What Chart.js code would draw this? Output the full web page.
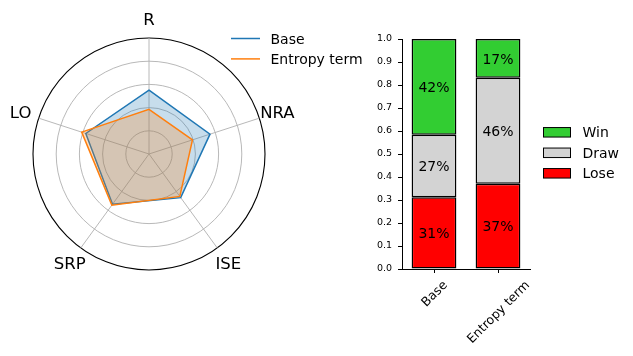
<!DOCTYPE html>
<html><head><meta charset="utf-8">
<script src="https://cdn.jsdelivr.net/npm/chart.js@4/dist/chart.umd.min.js"></script>
<style>
html,body{margin:0;padding:0;background:#fff;}
#wrap{position:relative;width:633px;height:356px;overflow:hidden;background:#fff;}
canvas{position:absolute;left:0;top:0;}
</style></head><body>
<div id="wrap"><canvas id="radar" width="633" height="356"></canvas><canvas id="bars" width="633" height="356"></canvas></div>
<script>
// ---- data ----
const radarLabels = ['R', 'NRA', 'ISE', 'SRP', 'LO'];
const radarSeriesNames = ['Base', 'Entropy term'];
const baseScores = [0.55, 0.553, 0.465, 0.535, 0.573];
const entropyScores = [0.385, 0.394, 0.452, 0.545, 0.61];
const radarGridSteps = 0.2;

const barCategories = ['Base', 'Entropy term'];
const outcomeNames = ['Win', 'Draw', 'Lose'];
const winShare = [0.416, 0.169];
const drawShare = [0.272, 0.46];
const loseShare = [0.312, 0.371];
const yTickStep = 0.1;

// ---- styling ----
const BLUE = '#1f77b4', ORANGE = '#ff7f0e';
const GREEN = '#32cd32', GRAY = '#d3d3d3', RED = '#ff0000';
const FONT = '"DejaVu Sans", sans-serif';
Chart.defaults.font.family = FONT;
Chart.defaults.color = '#000';
Chart.defaults.animation = false;

const radarText = {
  id: 'radarText',
  afterDraw(chart) {
    const ctx = chart.ctx, s = chart.scales.r;
    ctx.save();
    ctx.fillStyle = '#000';
    ctx.font = '16.5px ' + FONT;
    ctx.textAlign = 'center';
    ctx.textBaseline = 'alphabetic';
    radarLabels.forEach((lab, i) => {
      const p = s.getPointPosition(i, s.drawingArea + 19);
      ctx.fillText(lab, p.x, p.y + 16.5 * 0.3645);
    });
    // legend
    ctx.font = '14px ' + FONT;
    ctx.textAlign = 'left';
    chart.data.datasets.forEach((d, i) => {
      const y = 38.5 + i * 20.4;
      ctx.strokeStyle = d.borderColor;
      ctx.lineWidth = 1.5;
      ctx.beginPath(); ctx.moveTo(231, y); ctx.lineTo(260, y); ctx.stroke();
      ctx.fillStyle = '#000';
      ctx.fillText(d.label, 270.5, y + 14 * 0.3645);
    });
    ctx.restore();
  }
};

new Chart(document.getElementById('radar'), {
  type: 'radar',
  data: {
    labels: radarLabels,
    datasets: [
      { label: radarSeriesNames[0], data: baseScores, borderColor: BLUE, backgroundColor: 'rgba(31,119,180,0.25)',
        borderWidth: 1.5, pointRadius: 0, fill: 'origin', tension: 0, order: 1 },
      { label: radarSeriesNames[1], data: entropyScores, borderColor: ORANGE, backgroundColor: 'rgba(255,127,14,0.25)',
        borderWidth: 1.5, pointRadius: 0, fill: 'origin', tension: 0, order: 0 }
    ]
  },
  options: {
    responsive: false, animation: false,
    layout: { padding: { left: 33, top: 38, right: 633 - 33 - 232, bottom: 356 - 38 - 232 } },
    plugins: { legend: { display: false }, tooltip: { enabled: false } },
    scales: {
      r: {
        min: 0, max: 1,
        ticks: { display: false, stepSize: radarGridSteps },
        pointLabels: { display: false },
        grid: { circular: true,
          color: c => c.index === 5 ? '#000' : '#b0b0b0',
          lineWidth: c => c.index === 5 ? 1.1 : 0.9 },
        angleLines: { color: '#b0b0b0', lineWidth: 0.9 }
      }
    }
  },
  plugins: [radarText]
});

const barText = {
  id: 'barText',
  afterDatasetsDraw(chart) {
    const ctx = chart.ctx;
    ctx.save();
    ctx.font = '14px ' + FONT;
    ctx.fillStyle = '#000';
    ctx.textAlign = 'center';
    ctx.textBaseline = 'alphabetic';
    chart.data.datasets.forEach((d, i) => {
      chart.getDatasetMeta(i).data.forEach((el, j) => {
        const cy = (el.y + el.base) / 2;
        ctx.fillText(Math.round(d.data[j] * 100) + '%', el.x, cy + 14 * 0.3645);
      });
    });
    ctx.restore();
  },
  afterDraw(chart) {
    const ctx = chart.ctx, xs = chart.scales.x;
    ctx.save();
    ctx.fillStyle = '#000';
    ctx.font = '12.5px ' + FONT;
    ctx.textBaseline = 'alphabetic';
    barCategories.forEach((lab, i) => {
      const x = xs.getPixelForTick(i);
      const w = ctx.measureText(lab).width;
      const h = 12.5 * 1.164;
      const W = (w + h) * Math.SQRT1_2;
      const cy = xs.top + 3.5 + 4.9 + W / 2;
      ctx.save();
      ctx.translate(x, cy);
      ctx.rotate(-Math.PI / 4);
      ctx.textAlign = 'center';
      ctx.fillText(lab, 0, 12.5 * 0.346);
      ctx.restore();
    });
    // legend: Win, Draw, Lose
    ctx.font = '14px ' + FONT;
    ctx.textAlign = 'left';
    const order = [2, 1, 0];
    order.forEach((di, k) => {
      const d = chart.data.datasets[di];
      const cy = 132.3 + k * 20.5;
      ctx.fillStyle = d.backgroundColor;
      ctx.fillRect(543.5, cy - 4.75, 27, 9.5);
      ctx.strokeStyle = '#000';
      ctx.lineWidth = 1;
      ctx.strokeRect(543.5, cy - 4.75, 27, 9.5);
      ctx.fillStyle = '#000';
      ctx.fillText(d.label, 582.5, cy + 14 * 0.3645);
    });
    ctx.restore();
  }
};

const barCommon = { borderColor: '#000000', borderWidth: 1.5, borderSkipped: false, barPercentage: 0.7, categoryPercentage: 1 };
new Chart(document.getElementById('bars'), {
  type: 'bar',
  data: {
    labels: barCategories,
    datasets: [
      Object.assign({ label: outcomeNames[2], data: loseShare, backgroundColor: RED }, barCommon),
      Object.assign({ label: outcomeNames[1], data: drawShare, backgroundColor: GRAY }, barCommon),
      Object.assign({ label: outcomeNames[0], data: winShare, backgroundColor: GREEN }, barCommon)
    ]
  },
  options: {
    responsive: false, animation: false,
    layout: { padding: { left: 362, right: 103, top: 39, bottom: 7 } },
    plugins: { legend: { display: false }, tooltip: { enabled: false } },
    scales: {
      x: {
        stacked: true, offset: true,
        grid: { offset: false, drawOnChartArea: false, drawTicks: true, tickLength: 4, color: '#000' },
        border: { display: true, color: '#000', width: 1 },
        ticks: { display: false },
        afterFit(s) { s.height = 80; }
      },
      y: {
        stacked: true, min: 0, max: 1,
        ticks: { stepSize: yTickStep, padding: 6, font: { size: 9.5 }, callback: v => Number(v).toFixed(1) },
        grid: { drawOnChartArea: false, drawTicks: true, tickLength: 4, color: '#000' },
        border: { display: true, color: '#000', width: 1 },
        afterFit(s) { s.width = 40; }
      }
    }
  },
  plugins: [barText]
});
</script>
</body></html>
